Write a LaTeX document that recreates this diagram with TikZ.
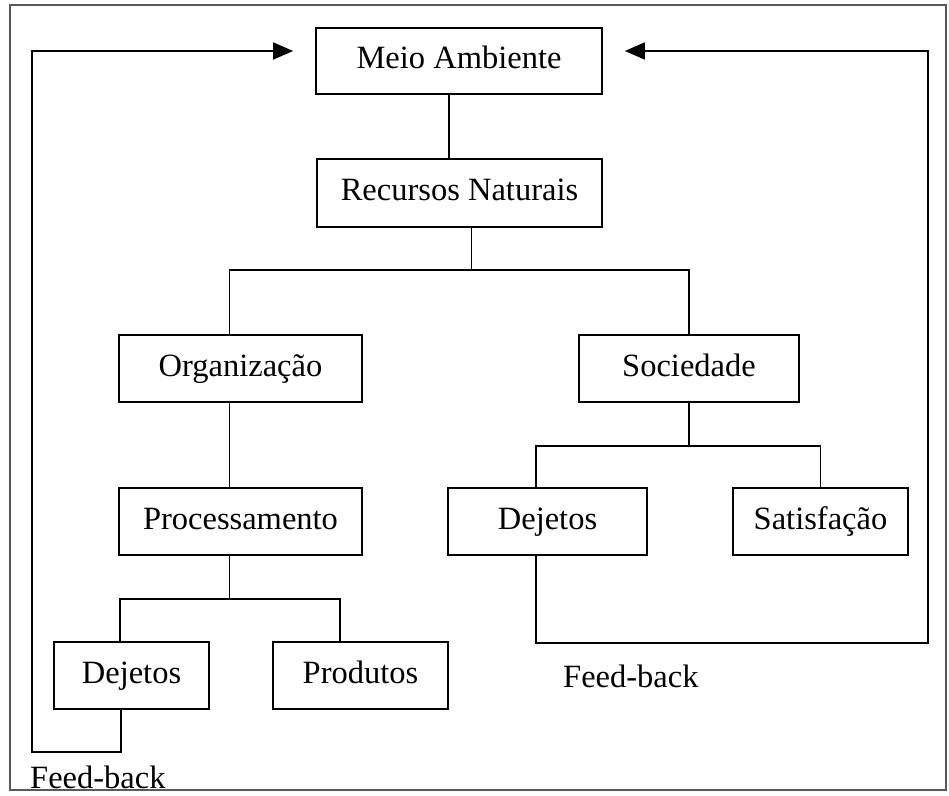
\documentclass[tikz,border=0pt]{standalone}
\usepackage{fontspec}
\setmainfont{Liberation Serif}
\usetikzlibrary{arrows.meta,calc}
\tikzset{>={Triangle[length=20pt,width=17pt]}}

\begin{document}
\begin{tikzpicture}[x=1pt, y=-1pt, every node/.style={font=\fontsize{32.5}{38}\selectfont},
		caixa/.style={draw, line width=1.7pt, inner sep=0pt, minimum height=67pt, text height=22pt, text depth=7pt},
		liga/.style={line width=1.7pt}]
			\useasboundingbox (0,0) rectangle (949,795);
			\draw[line width=1.2pt, black!65] (10,5) rectangle (946,790);
			\node[caixa, minimum width=286pt, minimum height=66pt] (meio) at (459,61) {Meio Ambiente};
			\node[caixa, minimum width=285pt, minimum height=68pt] (rec) at (459.5,193) {Recursos Naturais};
			\node[caixa, minimum width=243pt] (org) at (240.5,368.5) {Organização};
			\node[caixa, minimum width=220pt] (soc) at (689,368.5) {Sociedade};
			\node[caixa, minimum width=243pt] (proc) at (240.5,521.5) {Processamento};
			\node[caixa, minimum width=199pt] (dejr) at (547.5,521.5) {Dejetos};
			\node[caixa, minimum width=175pt] (sat) at (820.5,521.5) {Satisfação};
			\node[caixa, minimum width=155pt] (dejl) at (131.5,675.5) {Dejetos};
			\node[caixa, minimum width=175pt] (prod) at (360.5,675.5) {Produtos};
			\node[anchor=west, inner sep=0pt] (fbl) at (30,777) {Feed-back};
			\node[anchor=west, inner sep=0pt] (fbr) at (563,676) {Feed-back};
			% ligacoes da arvore
			\draw[liga] ([xshift=-10pt]meio.south) -- ([xshift=-10pt]meio.south |- rec.north);
			\draw[liga] ([xshift=12pt]rec.south) -- ++(0,42) coordinate (r1);
			\draw[liga] ([xshift=-11pt]org.north) |- (r1) -| (soc.north);
			\draw[liga] ([xshift=-11pt]org.south) -- ([xshift=-11pt]proc.north);
			\draw[liga] ([xshift=-11pt]proc.south) -- ++(0,43) coordinate (p1);
			\draw[liga] ([xshift=-11.5pt]dejl.north) |- (p1) -| ([xshift=-20.5pt]prod.north);
			\draw[liga] (soc.south) -- ++(0,43) coordinate (s1);
			\draw[liga] ([xshift=-11.5pt]dejr.north) |- (s1) -| (sat.north);
			% feed-back
			\coordinate (fbL) at ($(meio.west)+(-22,-10)$);
			\coordinate (fbR) at ($(meio.east)+(22,-10)$);
			\draw[liga, ->] ([xshift=-10.5pt]dejl.south) |- (32,752) |- (fbL);
			\draw[liga, ->] ([xshift=-11.5pt]dejr.south) |- (928,643) |- (fbR);
		\end{tikzpicture}
\end{document}
